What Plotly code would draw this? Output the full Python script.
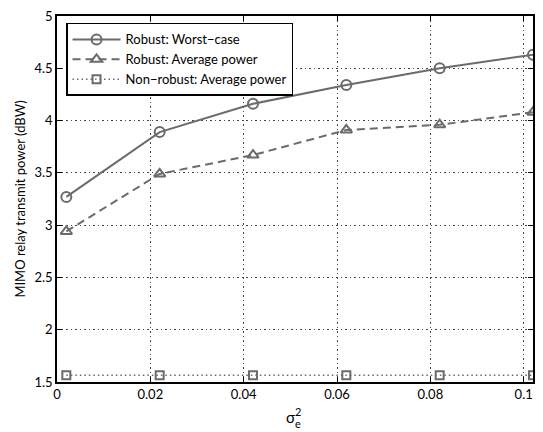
import plotly.graph_objects as go

x_vals = [0.002, 0.022, 0.042, 0.062, 0.082, 0.102]
worst_case = [3.27, 3.89, 4.16, 4.34, 4.50, 4.63]
avg_robust = [2.94, 3.49, 3.67, 3.91, 3.96, 4.08]
avg_nonrobust = [1.565, 1.565, 1.565, 1.565, 1.565, 1.565]

x_ticks = [0, 0.02, 0.04, 0.06, 0.08, 0.1]
x_tick_text = ["0", "0.02", "0.04", "0.06", "0.08", "0.1"]
y_ticks = [1.5, 2, 2.5, 3, 3.5, 4, 4.5, 5]
y_tick_text = ["1.5", "2", "2.5", "3", "3.5", "4", "4.5", "5"]

names = ["Robust: Worst\u2212case", "Robust: Average power", "Non\u2212robust: Average power"]

gray = "#6b6b6b"
FONT = "Lato"

fig = go.Figure()
fig.add_trace(go.Scatter(
    x=x_vals, y=worst_case, name=names[0], mode="lines+markers",
    line=dict(color=gray, width=2, dash="solid"),
    marker=dict(symbol="circle-open", size=10, color=gray, line=dict(width=2)),
))
fig.add_trace(go.Scatter(
    x=x_vals, y=avg_robust, name=names[1], mode="lines+markers",
    line=dict(color=gray, width=2, dash="8px,5px"),
    marker=dict(symbol="triangle-up-open", size=10, color=gray, line=dict(width=2)),
))
fig.add_trace(go.Scatter(
    x=x_vals, y=avg_nonrobust, name=names[2], mode="lines+markers",
    line=dict(color=gray, width=1.5, dash="1.5px,3px"),
    marker=dict(symbol="square-open", size=8, color=gray, line=dict(width=2)),
))

axis_common = dict(
    showline=True, linecolor="black", linewidth=1.5, mirror="ticks",
    ticks="inside", ticklen=5, tickcolor="black",
    showgrid=True, gridcolor="#444444", griddash="1.5px,3px", gridwidth=1,
    zeroline=False,
    tickfont=dict(family=FONT, size=13, color="black"),
)

fig.update_xaxes(range=[0, 0.102], tickvals=x_ticks, ticktext=x_tick_text, **axis_common)
fig.update_yaxes(range=[1.5, 5], tickvals=y_ticks, ticktext=y_tick_text,
                 title=dict(text="MIMO relay transmit power (dBW)",
                            font=dict(family=FONT, size=13, color="black"), standoff=6),
                 **axis_common)

# x-axis label: sigma with stacked superscript 2 and subscript e
fig.add_annotation(text="\u03c3", xref="paper", yref="paper", x=0.49, y=0, yshift=-35,
                   xanchor="center", yanchor="middle", showarrow=False,
                   font=dict(family=FONT, size=15, color="black"))
fig.add_annotation(text="2", xref="paper", yref="paper", x=0.49, y=0, xshift=8, yshift=-29,
                   xanchor="center", yanchor="middle", showarrow=False,
                   font=dict(family=FONT, size=11, color="black"))
fig.add_annotation(text="e", xref="paper", yref="paper", x=0.49, y=0, xshift=8, yshift=-41,
                   xanchor="center", yanchor="middle", showarrow=False,
                   font=dict(family=FONT, size=11, color="black"))

fig.update_layout(
    width=543, height=432,
    margin=dict(l=57, r=8, t=8, b=50),
    paper_bgcolor="white", plot_bgcolor="white",
    font=dict(family=FONT, size=13, color="black"),
    showlegend=True,
    legend=dict(x=0.019, y=0.981, xanchor="left", yanchor="top",
                bgcolor="white", bordercolor="black", borderwidth=1.5,
                font=dict(family=FONT, size=13, color="black"),
                tracegroupgap=0, itemwidth=48),
)

fig.write_html("out.html")
